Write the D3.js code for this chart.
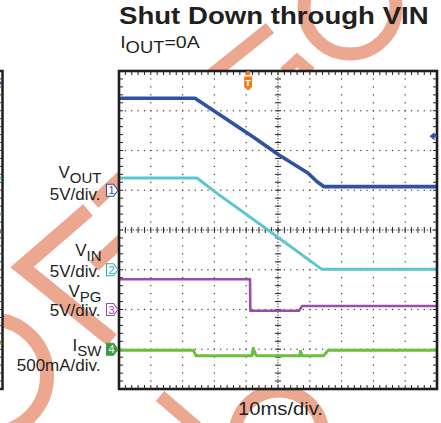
<!DOCTYPE html>
<html>
<head>
<meta charset="utf-8">
<script src="https://cdn.jsdelivr.net/npm/d3@7"></script>
<style>
  html, body { margin: 0; padding: 0; background: #fff; }
  svg { display: block; font-family: "Liberation Sans", Arial, Helvetica, sans-serif; }
</style>
</head>
<body>
<div id="chart"></div>
<script>
// scope screen: 10 ms/div across 10 divisions, 8 vertical divisions
const timeDomain = [0, 100];
const divDomain = [-4, 4];

// channels: ground marker position (div), units per division
const channelIds = ["1", "2", "3", "4"];
const channelOffsets = [1, -1, -2, -3];
const channelPerDiv = [5, 5, 5, 500];
const channelNames = ["V", "V", "V", "I"];
const channelSubs = ["OUT", "IN", "PG", "SW"];
const channelScaleText = ["5V/div.", "5V/div.", "5V/div.", "500mA/div."];

// ch1 VOUT (V)
const voutTime = [0, 23.9, 42.1, 50.3, 59.4, 62.3, 64.5, 100];
const voutVal = [11.57, 11.57, 6.73, 4.43, 2.17, 1.07, 0.45, 0.45];
// ch2 VIN (V)
const vinTime = [0, 24.5, 31.4, 47.5, 63.8, 100];
const vinVal = [11.54, 11.54, 9.45, 4.8, 0.05, 0.05];
// ch3 VPG (V)
const vpgTime = [0, 41.2, 41.3, 56.6, 57.6, 100];
const vpgVal = [3.8, 3.8, -0.15, -0.15, 0.44, 0.44];
// ch4 ISW (mA)
const iswTime = [0, 23.4, 24.2, 41.8, 42.2, 43.0, 43.4, 56.9, 57.1, 57.6, 64.3, 65.8, 100];
const iswVal = [-13, -13, -81, -81, 12, -70, -81, -81, -25, -81, -81, -13, -13];

// trigger: position (ms) and level on ch1 (V)
const triggerTime = 40.6;
const triggerLevel = 6.8;

// edge of the neighbouring scope shot (levels in div)
const neighbourLevels = [3.7, 1.31, 0.4, -0.05, -2.84];
const neighbourColors = ["#2f52a3", "#5ec5d0", "#5ec5d0", "#9b4ea9", "#6cbf3c"];

const traceColors = ["#2f52a3", "#5ec5d0", "#9b4ea9", "#6cbf3c"];
const markerColors = ["#34509c", "#2fa9b3", "#9b4ea9", "#3d9a46"];
const textColor = "#231f20";
const markColor = "#eba78f";

const W = 441, H = 423;
const svg = d3.select("#chart").append("svg").attr("width", W).attr("height", H);

const x = d3.scaleLinear().domain(timeDomain).range([119, 437]);
const y = d3.scaleLinear().domain(divDomain).range([389, 71]);
const yCh = (ch, v) => y(channelOffsets[ch] + v / channelPerDiv[ch]);

// watermark, sits behind everything
const wm = svg.append("g").attr("fill", "none").attr("stroke", markColor).attr("stroke-width", 13);
wm.append("path").attr("d", "M270,28 L200,84");
wm.append("path").attr("d", "M284,72 L297,60 L311,72").attr("stroke-width", 11);
wm.append("circle").attr("cx", 350).attr("cy", 8).attr("r", 46);
wm.append("path").attr("d", "M88,210 L22,267 L112,340").attr("stroke-width", 15);
wm.append("path").attr("d", "M94,203 L124,175");
wm.append("path").attr("d", "M94,266 L124,238");
wm.append("circle").attr("cx", -10).attr("cy", 376).attr("r", 57).attr("stroke-width", 14);
wm.append("path").attr("d", "M160,396 L202,432");
wm.append("circle").attr("cx", 279).attr("cy", 435).attr("r", 44);

// neighbouring screen edge on the left
const nb = svg.append("g");
nb.append("rect").attr("x", -10).attr("y", y(4)).attr("width", 12.5).attr("height", y(-4) - y(4))
  .attr("fill", "#fff").attr("stroke", "#1e1e1e").attr("stroke-width", 2.5);
nb.selectAll("line.nbtick").data(d3.range(-4, 4.001, 0.2)).join("line")
  .attr("x1", 0).attr("x2", 1).attr("y1", (d) => y(d)).attr("y2", (d) => y(d))
  .attr("stroke", "#333").attr("stroke-width", 1);
nb.selectAll("line.nbtrace").data(neighbourLevels).join("line")
  .attr("x1", 0).attr("x2", 1.5).attr("y1", (d) => y(d)).attr("y2", (d) => y(d))
  .attr("stroke", (_d, i) => neighbourColors[i]).attr("stroke-width", 3);

// plot background
svg.append("rect").attr("x", x(0)).attr("y", y(4)).attr("width", x(100) - x(0)).attr("height", y(-4) - y(4))
  .attr("fill", "#fff");

const grid = svg.append("g").attr("fill", "#3a3a3a");
const minorT = d3.range(0, 100.001, 2);
const minorD = d3.range(-4, 4.001, 0.2);
const majorT = [10, 20, 30, 40, 60, 70, 80, 90];
const majorD = [-3, -2, -1, 1, 2, 3];

majorT.forEach((t) => {
  grid.selectAll(null).data(minorD.slice(1, -1)).join("rect")
    .attr("x", x(t) - 0.6).attr("y", (d) => y(d) - 0.6).attr("width", 1.2).attr("height", 1.2);
});
majorD.forEach((dv) => {
  grid.selectAll(null).data(minorT.slice(1, -1)).join("rect")
    .attr("x", (t) => x(t) - 0.6).attr("y", y(dv) - 0.6).attr("width", 1.2).attr("height", 1.2);
});

// centre cross with ticks
const cross = svg.append("g").attr("stroke", "#222").attr("stroke-width", 1);
cross.append("line").attr("x1", x(0)).attr("x2", x(100)).attr("y1", y(0)).attr("y2", y(0))
  .attr("stroke-dasharray", "1.2,1.6");
cross.append("line").attr("x1", x(50)).attr("x2", x(50)).attr("y1", y(4)).attr("y2", y(-4))
  .attr("stroke-dasharray", "1.2,1.6");
cross.selectAll("line.ct").data(minorT).join("line")
  .attr("x1", (t) => x(t)).attr("x2", (t) => x(t)).attr("y1", y(0) - 3).attr("y2", y(0) + 3);
cross.selectAll("line.cd").data(minorD).join("line")
  .attr("x1", x(50) - 3).attr("x2", x(50) + 3).attr("y1", (d) => y(d)).attr("y2", (d) => y(d));

// border ticks
const bt = svg.append("g").attr("stroke", "#222").attr("stroke-width", 1);
bt.selectAll("line.top").data(minorT).join("line")
  .attr("x1", (t) => x(t)).attr("x2", (t) => x(t)).attr("y1", y(4)).attr("y2", y(4) + 4);
bt.selectAll("line.bot").data(minorT).join("line")
  .attr("x1", (t) => x(t)).attr("x2", (t) => x(t)).attr("y1", y(-4)).attr("y2", y(-4) - 4);
bt.selectAll("line.lft").data(minorD).join("line")
  .attr("x1", x(0)).attr("x2", x(0) + 4).attr("y1", (d) => y(d)).attr("y2", (d) => y(d));
bt.selectAll("line.rgt").data(minorD).join("line")
  .attr("x1", x(100)).attr("x2", x(100) - 4).attr("y1", (d) => y(d)).attr("y2", (d) => y(d));

// traces
svg.append("clipPath").attr("id", "screen").append("rect")
  .attr("x", x(0)).attr("y", y(4)).attr("width", x(100) - x(0)).attr("height", y(-4) - y(4));
const traces = [
  { ch: 0, t: voutTime, v: voutVal, w: 3.6 },
  { ch: 1, t: vinTime, v: vinVal, w: 3 },
  { ch: 2, t: vpgTime, v: vpgVal, w: 2.6 },
  { ch: 3, t: iswTime, v: iswVal, w: 3 },
];
const tg = svg.append("g").attr("clip-path", "url(#screen)");
traces.forEach((tr) => {
  const line = d3.line().x((i) => x(tr.t[i])).y((i) => yCh(tr.ch, tr.v[i]));
  tg.append("path").attr("d", line(d3.range(tr.t.length)))
    .attr("fill", "none").attr("stroke", traceColors[tr.ch]).attr("stroke-width", tr.w)
    .attr("stroke-linejoin", "round");
});

// frame
svg.append("rect").attr("x", x(0)).attr("y", y(4)).attr("width", x(100) - x(0)).attr("height", y(-4) - y(4))
  .attr("fill", "none").attr("stroke", "#1e1e1e").attr("stroke-width", 2.6);

// channel ground markers
channelIds.forEach((id, ch) => {
  const cy = y(channelOffsets[ch]);
  const filled = ch === 3;
  const g = svg.append("g");
  g.append("path")
    .attr("d", `M106.5,${cy - 6} H113.5 L118,${cy} L113.5,${cy + 6} H106.5 Z`)
    .attr("fill", filled ? markerColors[ch] : "#fff")
    .attr("stroke", markerColors[ch]).attr("stroke-width", 1.1);
  g.append("text").attr("x", 111.5).attr("y", cy + 4).attr("text-anchor", "middle")
    .attr("font-size", 11).attr("fill", filled ? "#fff" : markerColors[ch]).text(id);
});

// trigger position marker
const tx = x(triggerTime);
svg.append("circle").attr("cx", tx).attr("cy", 73).attr("r", 2.2).attr("fill", "#f07c1e");
svg.append("path").attr("d", `M${tx - 4},76.5 H${tx + 4} V87 L${tx},90.5 L${tx - 4},87 Z`).attr("fill", "#f07c1e");
svg.append("text").attr("x", tx).attr("y", 86).attr("text-anchor", "middle")
  .attr("font-size", 9).attr("font-weight", "bold").attr("fill", "#fff").text("T");

// trigger level marker on ch1
const ty = yCh(0, triggerLevel);
svg.append("path").attr("d", `M429.5,${ty} L434.5,${ty - 4} V${ty + 4} Z`).attr("fill", traceColors[0]);
svg.append("line").attr("x1", 434).attr("x2", 437).attr("y1", ty).attr("y2", ty)
  .attr("stroke", traceColors[0]).attr("stroke-width", 2);

// titles (stretched horizontally like the original)
const head = svg.append("g").attr("transform", "translate(119,0) scale(1.15,1)").attr("fill", textColor);
head.append("text").attr("x", 0).attr("y", 24).attr("font-size", 24).attr("font-weight", "bold")
  .text("Shut Down through VIN");
const iout = head.append("text").attr("x", 1).attr("y", 48.3).attr("font-size", 17);
iout.append("tspan").text("I");
iout.append("tspan").attr("dy", 5).attr("font-size", 16).text("OUT");
iout.append("tspan").attr("dy", -5).text("=0A");

// channel labels
const nameBase = [178.3, 255.7, 296.7, 350.7];
const scaleBase = [200, 276.7, 316, 370.7];
const lab = svg.append("g").attr("fill", textColor).attr("text-anchor", "end");
channelIds.forEach((_id, ch) => {
  const t = lab.append("text").attr("x", 101.5).attr("y", nameBase[ch]).attr("font-size", 17);
  t.append("tspan").text(channelNames[ch]);
  t.append("tspan").attr("dy", 4.8).attr("font-size", 15).text(channelSubs[ch]);
  lab.append("text").attr("x", 100.5).attr("y", scaleBase[ch]).attr("font-size", 17).text(channelScaleText[ch]);
});

svg.append("text").attr("x", 238).attr("y", 415).attr("font-size", 19).attr("fill", textColor)
  .attr("textLength", 85).attr("lengthAdjust", "spacingAndGlyphs").text("10ms/div.");
</script>
</body>
</html>
